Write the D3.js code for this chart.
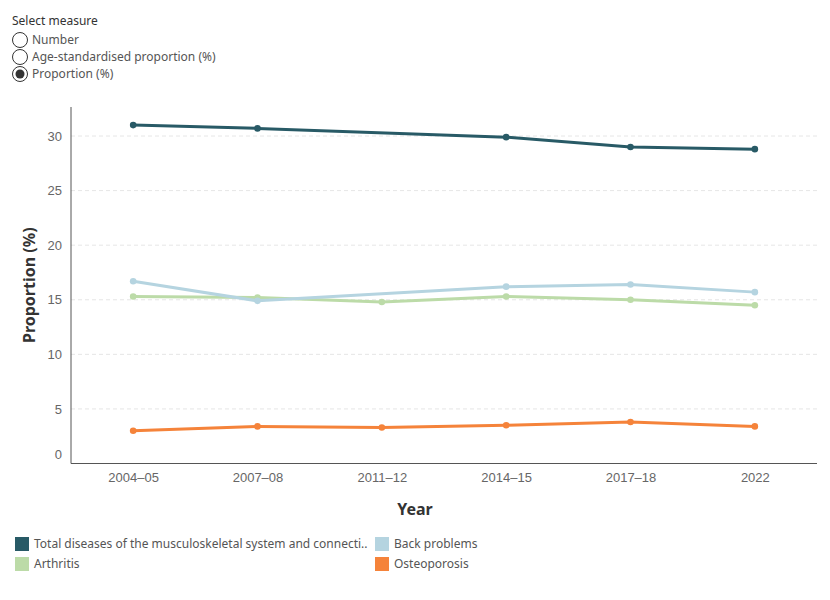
<!DOCTYPE html>
<html>
<head>
  <meta charset="utf-8">
  <script src="https://d3js.org/d3.v7.min.js"></script>
  <style>
  body{
    margin:0;
    background:#fff;
    font-family:"Noto Sans", Lato, sans-serif;
  }
  .grid line{
    stroke:#e6e6e6;
    stroke-dasharray:4,3;
  }
  .tick text{
    fill:#666;
    font-size:13px;
  }
  .axis path, .axis line{
    stroke:#555;
  }
  .ttl{
    font-weight:bold;
    font-size:16px;
    fill:#333;
  }
  .leg text, .radio text{
    font-size:12px;
    fill:#555;
  }
  </style>
</head>
<body>
  <svg width="830" height="600"></svg>
<script>
  var years = ["2004–05", "2007–08", "2011–12", "2014–15", "2017–18", "2022"];
  var seriesNames = ["Total diseases of the musculoskeletal system and connective tissue", "Back problems", "Arthritis", "Osteoporosis"];
  var totalVals = [31.0, 30.7, null, 29.9, 29.0, 28.8];
  var backVals = [16.7, 14.9, null, 16.2, 16.4, 15.7];
  var arthritisVals = [15.3, 15.2, 14.8, 15.3, 15.0, 14.5];
  var osteoVals = [3.0, 3.4, 3.3, 3.5, 3.8, 3.4];
  var yTicks = [0, 5, 10, 15, 20, 25, 30];
  var measures = ["Number", "Age-standardised proportion (%)", "Proportion (%)"];
  var colors = ["#285a66", "#b5d4e0", "#bcdba8", "#f5833a"];

  var svg = d3.select("svg");
  var pLeft = 71, pRight = 817, pTop = 107, pBottom = 463.5;

  var x = d3.scalePoint().domain(years).range([pLeft, pRight]).padding(0.5);
  var y = d3.scaleLinear().domain([0, 32.66]).range([pBottom, pTop]);

  // radio buttons
  svg.append("text").attr("x", 12).attr("y", 25)
    .style("font-size", "12px").style("fill", "#333").text("Select measure");
  var radio = svg.append("g").attr("class", "radio");
  measures.forEach(function(m, i){
    var cy = 40 + i * 17;
    radio.append("circle").attr("cx", 20).attr("cy", cy).attr("r", 7.5)
      .attr("fill", "#fff").attr("stroke", "#333").attr("stroke-width", 1);
    if (i == 2) {
      radio.append("circle").attr("cx", 20).attr("cy", cy).attr("r", 4.5).attr("fill", "#333");
    }
    radio.append("text").attr("x", 32).attr("y", cy + 4).text(m);
  });

  // gridlines
  svg.append("g").attr("class", "grid")
    .selectAll("line").data(yTicks.filter(function(d){return d > 0;}))
    .enter().append("line")
    .attr("x1", pLeft).attr("x2", pRight)
    .attr("y1", function(d){return y(d);}).attr("y2", function(d){return y(d);});

  var yAxis = svg.append("g").attr("class", "axis")
    .attr("transform", "translate(" + pLeft + ",0)")
    .call(d3.axisLeft(y).tickValues(yTicks).tickSize(0).tickPadding(9));
  yAxis.select(".domain").attr("d", "M0," + pTop + "V" + pBottom);
  // Tableau nudges the 0 label above the axis
  yAxis.selectAll(".tick").filter(function(d){return d == 0;})
    .select("text").attr("dy", "-0.35em");

  var xAxis = svg.append("g").attr("class", "axis")
    .attr("transform", "translate(0," + pBottom + ")")
    .call(d3.axisBottom(x).tickSize(0).tickPadding(9));
  xAxis.select(".domain").attr("d", "M" + pLeft + ",0H" + pRight);

  svg.append("text").attr("class", "ttl").attr("text-anchor", "middle")
    .attr("x", 415).attr("y", 515).text("Year");
  svg.append("text").attr("class", "ttl").attr("text-anchor", "middle")
    .attr("transform", "translate(35," + ((pTop + pBottom) / 2) + ") rotate(-90)")
    .text("Proportion (%)");

  var data = [totalVals, backVals, arthritisVals, osteoVals].map(function(vals, i){
    return {name: seriesNames[i], color: colors[i],
      pts: years.map(function(yr, j){return {x: yr, v: vals[j]};})
                .filter(function(p){return p.v != null;})};
  });

  var line = d3.line().x(function(d){return x(d.x);}).y(function(d){return y(d.v);});
  // draw order: orange, green, blue, total on top
  [3, 2, 1, 0].forEach(function(i){
    var s = data[i];
    svg.append("path").datum(s.pts).attr("d", line)
      .attr("fill", "none").attr("stroke", s.color).attr("stroke-width", 3)
      .attr("stroke-linejoin", "round");
    svg.selectAll(".pt" + i).data(s.pts).enter().append("circle")
      .attr("cx", function(d){return x(d.x);}).attr("cy", function(d){return y(d.v);})
      .attr("r", 3.3).attr("fill", s.color);
  });

  // legend
  var leg = svg.append("g").attr("class", "leg");
  var legPos = [[15, 537], [375, 537], [15, 557], [375, 557]];
  var legText = ["Total diseases of the musculoskeletal system and connecti..", "Back problems", "Arthritis", "Osteoporosis"];
  legPos.forEach(function(p, i){
    leg.append("rect").attr("x", p[0]).attr("y", p[1]).attr("width", 14).attr("height", 14)
      .attr("fill", colors[i]);
    leg.append("text").attr("x", p[0] + 19).attr("y", p[1] + 11).text(legText[i]);
  });
</script>
</body>
</html>
